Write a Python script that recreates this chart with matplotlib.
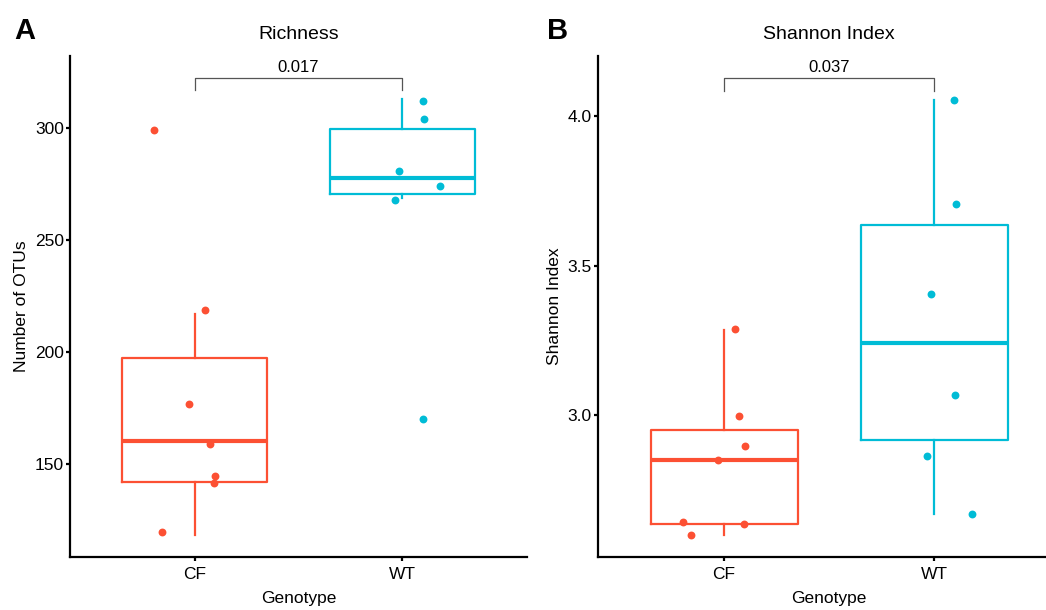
import numpy as np
import matplotlib
matplotlib.use("Agg")
import matplotlib.pyplot as plt

plt.rcParams['font.family'] = ['Liberation Sans', 'DejaVu Sans']

groups = ['CF', 'WT']
colors = ['#FC5033', '#00BCD6']

# Richness: points per group (value, jitter offset)
rich_cf = [299.1, 218.7, 176.8, 158.7, 144.4, 141.1, 119.4]
rich_cf_dx = [-0.196, 0.051, -0.029, 0.072, 0.098, 0.093, -0.159]
rich_wt = [312.4, 304.0, 280.7, 274.2, 267.8, 170.0]
rich_wt_dx = [0.098, 0.104, -0.016, 0.180, -0.034, 0.100]
# box stats: whisker low, q1, median, q3, whisker high
rich_box = [[118.2, 141.6, 160.2, 197.0, 217.1],
            [268.8, 270.4, 277.9, 299.7, 313.0]]
rich_p = '0.017'

# Shannon index
shan_cf = [3.289, 2.997, 2.899, 2.851, 2.644, 2.637, 2.602]
shan_cf_dx = [0.053, 0.073, 0.099, -0.029, -0.193, 0.094, -0.158]
shan_wt = [4.055, 3.707, 3.406, 3.069, 2.865, 2.670]
shan_wt_dx = [0.097, 0.104, -0.016, 0.099, -0.035, 0.179]
shan_box = [[2.601, 2.637, 2.852, 2.951, 3.286],
            [2.670, 2.919, 3.241, 3.637, 4.055]]
shan_p = '0.037'


def panel(ax, pts, dxs, box, ylim, yticks, bracket, ptxt, title, ylabel, letter, lx):
    stats = []
    for b in box:
        stats.append(dict(whislo=b[0], q1=b[1], med=b[2], q3=b[3], whishi=b[4], fliers=[]))
    for i, s in enumerate(stats):
        c = colors[i]
        ax.bxp([s], positions=[i + 1], widths=0.7, showcaps=False, showfliers=False,
               boxprops=dict(color=c, linewidth=1.6),
               whiskerprops=dict(color=c, linewidth=1.6),
               medianprops=dict(color=c, linewidth=3.0),
               manage_ticks=False)
    for i, (vals, dx) in enumerate(zip(pts, dxs)):
        ax.scatter(np.array(dx) + i + 1, vals, s=32, color=colors[i], zorder=3, linewidths=0)

    ax.set_xlim(0.4, 2.6)
    ax.set_ylim(*ylim)
    ax.set_xticks([1, 2])
    ax.set_xticklabels(groups)
    ax.set_yticks(yticks)
    ax.spines['top'].set_visible(False)
    ax.spines['right'].set_visible(False)
    for sp in ['left', 'bottom']:
        ax.spines[sp].set_linewidth(1.6)
    ax.tick_params(axis='both', labelsize=12.5, width=1.6, length=3, pad=1.5, colors='black')
    ax.tick_params(axis='x', pad=4.5)
    ax.set_xlabel('Genotype', fontsize=12.5, labelpad=6)
    ax.set_ylabel(ylabel, fontsize=12.5, labelpad=4)
    ax.set_title(title, fontsize=14, pad=12)

    # significance bracket
    ytop, ybot = bracket
    ax.plot([1, 1, 2, 2], [ybot, ytop, ytop, ybot], color='#555555', lw=0.9, clip_on=False)
    ax.annotate(ptxt, (1.5, ytop), xytext=(0, 2), textcoords='offset points',
                ha='center', va='bottom', fontsize=12)

    ax.text(lx, 1.049, letter, transform=ax.transAxes, fontsize=21, fontweight='bold',
            ha='center', va='center')


fig = plt.figure(figsize=(10.46, 6.10), dpi=100)
axA = fig.add_axes([70 / 1046, 1 - 557 / 610, 457 / 1046, (557 - 55.6) / 610])
axB = fig.add_axes([598 / 1046, 1 - 557 / 610, 462 / 1046, (557 - 55.6) / 610])

panel(axA, [rich_cf, rich_wt], [rich_cf_dx, rich_wt_dx], rich_box, (108.2, 332.5),
      [150, 200, 250, 300], (322.6, 316.9), rich_p, 'Richness', 'Number of OTUs', 'A', -0.098)
panel(axB, [shan_cf, shan_wt], [shan_cf_dx, shan_wt_dx], shan_box, (2.527, 4.203),
      [3.0, 3.5, 4.0], (4.129, 4.086), shan_p, 'Shannon Index', 'Shannon Index', 'B', -0.087)
axB.set_yticklabels(['3.0', '3.5', '4.0'])

fig.savefig('out.png', dpi=100)
